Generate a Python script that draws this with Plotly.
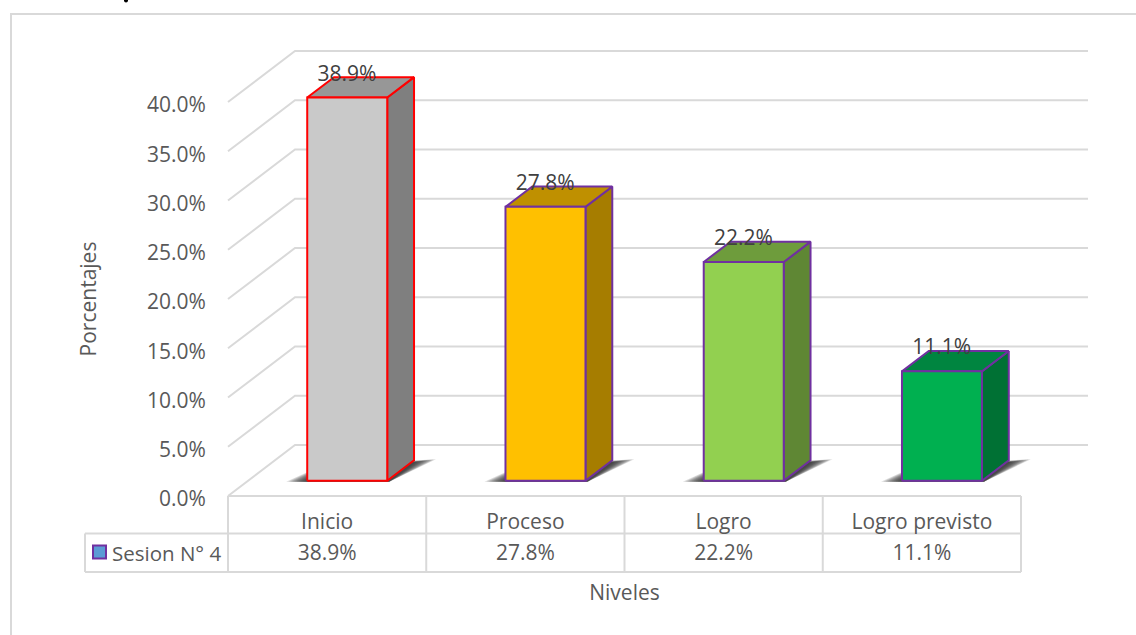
import plotly.graph_objects as go

categories = ["Inicio", "Proceso", "Logro", "Logro previsto"]
values = [38.9, 27.8, 22.2, 11.1]
series_name = "Sesion N° 4"
y_ticks = [0, 5, 10, 15, 20, 25, 30, 35, 40]
front_colors = ["#C9C9C9", "#FFC000", "#92D050", "#00B050"]
top_colors = ["#979797", "#BF9000", "#6E9C3C", "#008540"]
side_colors = ["#7F7F7F", "#A67D00", "#5F8734", "#007134"]
edge_colors = ["#FF0000", "#7030A0", "#7030A0", "#7030A0"]

W, H = 1136, 635
L, R, T, B = 228, 1021, 102, 496
GRID = "#D9D9D9"
TXT = "#595959"
FONT = "Open Sans"
FS = 21
px_x = (R - L) / 4
px_y = (B - T) / 40
depth_x = 67 / px_x
depth_y = 51 / px_y


def proj(x, v, d=0.0):
    return x + d * depth_x, v + d * depth_y


def X(px):
    return (px - L) / px_x


def Y(py):
    return (B - py) / px_y


fig = go.Figure()


def poly(pts, fill, line=None, lw=2):
    fig.add_trace(go.Scatter(
        x=[p[0] for p in pts] + [pts[0][0]], y=[p[1] for p in pts] + [pts[0][1]],
        mode="lines", fill="toself", fillcolor=fill,
        line=dict(color=line or "rgba(0,0,0,0)", width=lw if line else 0),
        hoverinfo="skip", showlegend=False))


def lines(segs, color=GRID, w=2):
    xs, ys = [], []
    for s in segs:
        xs += [p[0] for p in s] + [None]
        ys += [p[1] for p in s] + [None]
    fig.add_trace(go.Scatter(x=xs, y=ys, mode="lines", line=dict(color=color, width=w),
                             hoverinfo="skip", showlegend=False))


# chart frame: left and top edges only
lines([[(X(11), Y(H)), (X(11), Y(14)), (X(W), Y(14))]])

# walls: diagonal side + back gridlines for each tick
segs = []
for t in y_ticks:
    segs.append([proj(0, t), proj(0, t, 1), proj(4, t, 1)])
lines(segs)

# data table grid
row1, row2 = Y(533.5), Y(572)
row_mid = Y(555)
table = [[(X(85), row1), (4, row1)], [(X(85), row2), (4, row2)], [(X(85), row1), (X(85), row2)], [(0, 0), (4, 0)]]
for i in range(5):
    table.append([(i, 0), (i, row2)])
lines(table)

# bars
bw = 80 / px_x
for i, v in enumerate(values):
    x0 = i + 0.5 - bw / 2
    x1 = x0 + bw
    # contact shadow, nested layers to soften it
    bx0, by0 = proj(x0, 0, 0.3)
    bx1, _ = proj(x1, 0, 0.3)
    sx, sy = proj(x1, 0, 0.7)
    n = 10
    for k in range(n):
        g = 1 - k / n
        poly([(bx0 - g * 21 / px_x, by0 - 0.1),
              (bx0 + 14 / px_x, by0 + (10 + 5 * g) / px_y),
              (sx + g * 22 / px_x, sy + (g * 3 - 2) / px_y),
              (bx1 + 2 / px_x, by0 - 0.1)], "rgba(40,40,40,0.16)")
    fl = proj(x0, 0, 0.3); fr = proj(x1, 0, 0.3)
    tl = proj(x0, v, 0.3); tr = proj(x1, v, 0.3)
    btl = proj(x0, v, 0.7); btr = proj(x1, v, 0.7); br = proj(x1, 0, 0.7)
    poly([fr, br, btr, tr], side_colors[i], edge_colors[i])
    poly([tl, tr, btr, btl], top_colors[i], edge_colors[i])
    poly([fl, fr, tr, tl], front_colors[i], edge_colors[i])

# data labels
fig.add_trace(go.Scatter(
    x=[i + 0.6 for i in range(4)], y=[v + 37.5 / px_y for v in values],
    mode="text", text=[f"{v:.1f}%" for v in values],
    textfont=dict(family=FONT, size=FS, color="#404040"),
    textposition="middle center", hoverinfo="skip", showlegend=False))

# data table second row
fig.add_trace(go.Scatter(
    x=[i + 0.5 for i in range(4)], y=[row_mid] * 4,
    mode="text", text=[f"{v:.1f}%" for v in values],
    textfont=dict(family=FONT, size=FS, color=TXT),
    textposition="middle center", hoverinfo="skip", showlegend=False))

# legend key
fig.add_trace(go.Scatter(
    x=[X(99.5)], y=[Y(552)], mode="markers",
    marker=dict(symbol="square", size=13, color="#5B9BD5", line=dict(color="#7030A0", width=2)),
    hoverinfo="skip", showlegend=False))

# clipped tail of the text above the chart
fig.add_trace(go.Scatter(
    x=[X(126)], y=[Y(0.5)], mode="markers",
    marker=dict(symbol="circle", size=4, color="#000000", line=dict(width=0)),
    hoverinfo="skip", showlegend=False))

# carrier for the visible value/category axes
fig.add_trace(go.Scatter(
    x=[i + 0.5 for i in range(4)], y=values, xaxis="x2", yaxis="y2", mode="markers",
    marker=dict(size=1, opacity=0), hoverinfo="skip", showlegend=False))

annotations = [
    dict(x=X(223), y=Y(552.5), xref="x", yref="y", text=series_name, showarrow=False,
         xanchor="right", yanchor="middle", font=dict(family=FONT, size=20.5, color=TXT)),
]

fig.update_layout(
    width=W, height=H, autosize=False,
    margin=dict(l=0, r=0, t=0, b=0, pad=0, autoexpand=False),
    paper_bgcolor="#FFFFFF", plot_bgcolor="rgba(0,0,0,0)",
    showlegend=False, annotations=annotations,
    font=dict(family=FONT, size=FS, color=TXT),
    xaxis=dict(domain=[0, 1], range=[X(0), X(W)], visible=False, fixedrange=True),
    yaxis=dict(domain=[0, 1], range=[Y(H), Y(0)], visible=False, fixedrange=True),
    xaxis2=dict(domain=[L / W, R / W], range=[0, 4], anchor="y2", tickmode="array",
                tickvals=[i + 0.5 for i in range(4)], ticktext=categories,
                showgrid=False, zeroline=False, showline=False, ticks="outside", ticklen=7, tickcolor="rgba(0,0,0,0)",
                tickfont=dict(family=FONT, size=FS, color=TXT),
                title=dict(text="Niveles", standoff=51, font=dict(family=FONT, size=FS, color=TXT))),
    yaxis2=dict(domain=[(H - B) / H, (H - T) / H], range=[0, 40], anchor="x2", tickmode="array",
                tickvals=y_ticks, ticktext=[f"{t:.1f}%" for t in y_ticks],
                showgrid=False, zeroline=False, showline=False, ticks="outside", ticklen=17, tickcolor="rgba(0,0,0,0)",
                ticklabelshift=3,
                tickfont=dict(family=FONT, size=FS, color=TXT),
                title=dict(text="Porcentajes", standoff=44, font=dict(family=FONT, size=FS, color=TXT))),
)

fig.write_html("out.html", config={"displayModeBar": False}, post_script="document.body.style.margin='0';")
